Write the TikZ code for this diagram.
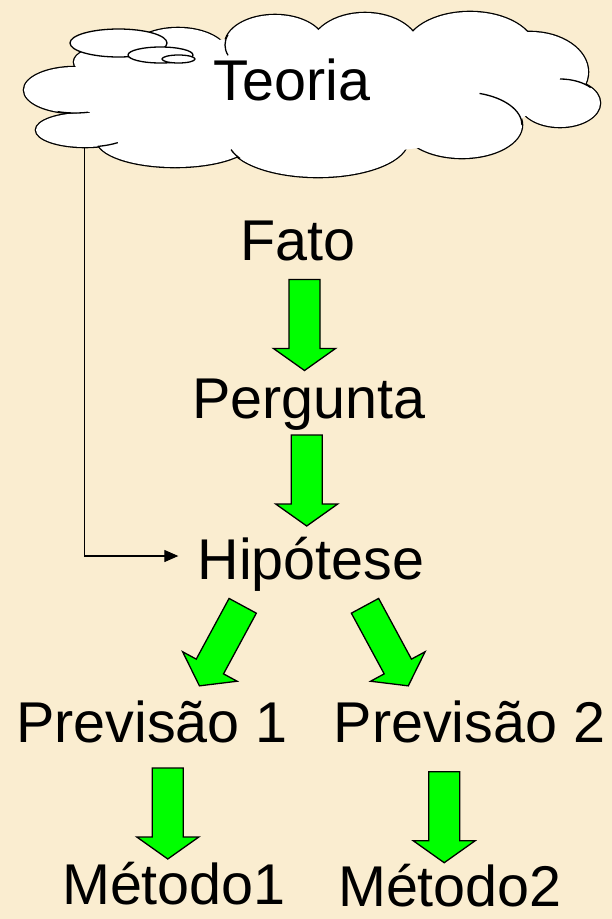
\documentclass[tikz,border=0pt]{standalone}
\usepackage{fontspec}
\setmainfont{Liberation Sans}
\usetikzlibrary{arrows.meta,calc}
\definecolor{bgparch}{RGB}{250,237,208}
\definecolor{arrowgreen}{RGB}{0,255,0}
\tikzset{
  lbl/.style={anchor=base, inner sep=0pt, font=\fontsize{57.5}{60}\selectfont},
  cloudline/.style={line width=1.3pt},
  tailell/.style={draw=black, fill=white, line width=1.3pt},
  linkline/.style={line width=1.1pt, -{Triangle[length=14pt,width=12pt]}},
  pics/blockarrow/.style={code={
    \draw[fill=arrowgreen, line width=1.3pt, line join=miter]
      (-15.5,0) -- (15.5,0) -- (15.5,-69) -- (31,-69) -- (0,-91)
      -- (-31,-69) -- (-15.5,-69) -- cycle;}},
}
\begin{document}
\begin{tikzpicture}[x=1pt,y=1pt]
\fill[bgparch] (0,0) rectangle (612,-919);
\useasboundingbox (0,0) rectangle (612,-919);
% cloud: union of bumps
\def\bumplist{75/90/51/23, 85/130/49/17, 175/140/78/27, 318/140/90/37,
  462/125/60/33, 560/103/40/24, 530/72/58/40, 470/50/65/38, 365/50/55/37,
  275/45/50/30, 178/55/50/27, 110/62/36/16}
\foreach \cx/\cy/\rx/\ry in \bumplist
  \draw[line width=2.6pt] (\cx,-\cy) ellipse[x radius=\rx, y radius=\ry];
\foreach \cx/\cy/\rx/\ry in \bumplist
  \fill[white] (\cx,-\cy) ellipse[x radius=\rx, y radius=\ry];
\fill[white] (310,-95) ellipse[x radius=230, y radius=60];
% inward tails of the bumps
\draw[cloudline] (75,-90) ++(250:51 and 23) arc[start angle=250, end angle=285, x radius=51, y radius=23];
\draw[cloudline] (85,-130) ++(285:49 and 17) arc[start angle=285, end angle=312, x radius=49, y radius=17];
\draw[cloudline] (318,-140) ++(195:90 and 37) arc[start angle=195, end angle=210, x radius=90, y radius=37];
\draw[cloudline] (462,-125) ++(0:60 and 33) arc[start angle=0, end angle=73, x radius=60, y radius=33];
\draw[cloudline] (560,-103) ++(40:40 and 24) arc[start angle=40, end angle=90, x radius=40, y radius=24];
\draw[cloudline] (275,-45) ++(160:50 and 30) arc[start angle=160, end angle=200, x radius=50, y radius=30];
% callout bubbles
\draw[tailell] (118.5,-43) ellipse[x radius=48.5, y radius=14];
\draw[tailell] (160.5,-55) ellipse[x radius=32.5, y radius=8];
\draw[tailell] (178.5,-59) ellipse[x radius=16.5, y radius=4];
\coordinate (cloudfoot) at (84.5,-147.6);
% labels
\node[lbl] (teoria) at (292,-100) {Teoria};
\node[lbl] (fato) at (298,-260) {Fato};
\node[lbl] (pergunta) at (309,-418) {Pergunta};
\node[lbl] (hip) at (311,-579) {Hipótese};
\node[lbl] (prev1) at (152,-742) {Previsão 1};
\node[lbl] (prev2) at (469.5,-742) {Previsão 2};
\node[lbl] (met1) at (174,-904) {Método1};
\node[lbl] (met2) at (450,-906) {Método2};
% thin connector from cloud to hypothesis
\draw[linkline] (cloudfoot) |- ($(hip.base west)+(-19,23)$);
% green block arrows
\pic at (304.5,-279.5) {blockarrow};
\pic at (306.7,-435) {blockarrow};
\pic[rotate=-28.4] at (242.7,-605.8) {blockarrow};
\pic[rotate=28.4] at (365,-605.8) {blockarrow};
\pic at (167.8,-768) {blockarrow};
\pic at (444.2,-771.7) {blockarrow};
\end{tikzpicture}
\end{document}
